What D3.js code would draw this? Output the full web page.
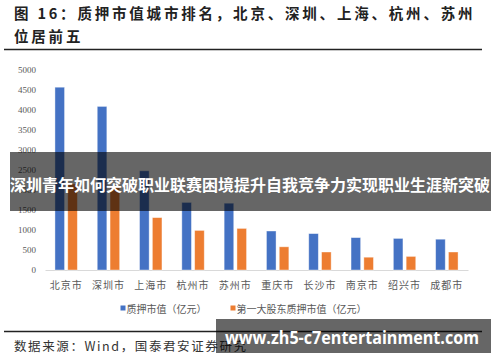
<!DOCTYPE html>
<html><head><meta charset="utf-8">
<script src="https://cdn.jsdelivr.net/npm/d3@7"></script>
<style>html,body{margin:0;padding:0;background:#fff;}svg{display:block;}</style>
</head><body>
<svg id="c" width="500" height="362"></svg>
<script>
const titleLines = ["图 16：质押市值城市排名，北京、深圳、上海、杭州、苏州", "位居前五"];
const cities = ["北京市","深圳市","上海市","杭州市","苏州市","重庆市","长沙市","南京市","绍兴市","成都市"];
const pledgeValue = [4570, 4090, 2480, 1690, 1670, 975, 910, 810, 790, 770];
const firstHolderValue = [2150, 2080, 1310, 990, 1040, 580, 450, 320, 340, 450];
const seriesNames = ["质押市值（亿元）", "第一大股东质押市值（亿元）"];
const seriesColors = ["#4472C4", "#ED7D31"];
const yTicks = [0, 500, 1000, 1500, 2000, 2500, 3000, 3500, 4000, 4500, 5000];
const sourceText = "数据来源：Wind，国泰君安证券研究";
const bannerText = "深圳青年如何突破职业联赛困境提升自我竞争力实现职业生涯新突破";
const watermarkText = "www.zh5-c7entertainment.com";

const svg = d3.select("#c");
const cjk = "'Noto Sans CJK SC', 'Noto Sans', sans-serif";

// Title
svg.selectAll("text.title").data(titleLines).enter().append("text")
  .attr("x", 14).attr("y", (d, i) => 12.5 + i * 22.5)
  .attr("dominant-baseline", "central")
  .style("font-family", cjk).style("font-size", "14.5px").style("font-weight", 600)
  .style("letter-spacing", "2.8px").attr("fill", "#222").text(d => d);
svg.append("line").attr("x1", 4).attr("x2", 482).attr("y1", 49.5).attr("y2", 49.5)
  .attr("stroke", "#222").attr("stroke-width", 1.3);

// Scales
const x0 = d3.scaleBand().domain(cities).range([45, 468]).paddingInner(0.47).paddingOuter(0.235);
const x1 = d3.scaleBand().domain([0, 1]).range([0, x0.bandwidth()]).paddingInner(0.25);
const y = d3.scaleLinear().domain([0, 5000]).range([270, 70]);

// Y axis
const yAxis = svg.append("g").attr("transform", "translate(36,0)")
  .call(d3.axisLeft(y).tickValues(yTicks).tickSize(0).tickPadding(0).tickFormat(d3.format("d")));
yAxis.select(".domain").remove();
yAxis.selectAll("text").attr("fill", "#595959")
  .style("font-family", "'Liberation Serif', serif").style("font-size", "9px");

// X axis
const xAxis = svg.append("g").attr("transform", "translate(0,270)")
  .call(d3.axisBottom(x0).tickSize(0).tickPadding(12).tickSizeOuter(0));
xAxis.select(".domain").attr("stroke", "#d9d9d9");
xAxis.selectAll("text").attr("fill", "#595959")
  .style("font-family", cjk).style("font-size", "10px").style("letter-spacing", "1px");

// Bars
const series = [pledgeValue, firstHolderValue];
const groups = svg.append("g").selectAll("g").data(cities).enter().append("g")
  .attr("transform", d => `translate(${x0(d)},0)`);
groups.selectAll("rect").data((c, i) => series.map((s, k) => ({k, v: s[i]}))).enter().append("rect")
  .attr("x", d => x1(d.k)).attr("width", x1.bandwidth())
  .attr("y", d => y(d.v)).attr("height", d => y(0) - y(d.v))
  .attr("fill", d => seriesColors[d.k])
  .attr("stroke", "#fff").attr("stroke-opacity", 0.5).attr("stroke-width", 0.8);

// Legend
const legendX = [120.5, 230.5];
const lg = svg.append("g").selectAll("g").data(seriesNames).enter().append("g")
  .attr("transform", (d, i) => `translate(${legendX[i]},308)`);
lg.append("rect").attr("x", 0).attr("y", -2.5).attr("width", 5).attr("height", 5)
  .attr("fill", (d, i) => seriesColors[i]);
lg.append("text").attr("x", 6).attr("y", 0).attr("dominant-baseline", "central")
  .style("font-family", cjk).style("font-size", "10px").attr("fill", "#595959").text(d => d);

// Bottom rule and source
svg.append("line").attr("x1", 4).attr("x2", 482).attr("y1", 331.5).attr("y2", 331.5)
  .attr("stroke", "#222").attr("stroke-width", 1.3);
svg.append("text").attr("x", 14).attr("y", 345).attr("dominant-baseline", "central")
  .style("font-family", cjk).style("font-size", "12.5px").style("letter-spacing", "1.6px")
  .attr("fill", "#333").text(sourceText);

// Overlay banner
svg.append("rect").attr("x", 10).attr("y", 152).attr("width", 481).attr("height", 59)
  .attr("fill", "#000").attr("fill-opacity", 0.6);
svg.append("text").attr("x", 250).attr("y", 183.5).attr("text-anchor", "middle")
  .attr("dominant-baseline", "central").attr("textLength", 480).attr("lengthAdjust", "spacingAndGlyphs")
  .style("font-family", cjk).style("font-size", "15.5px").style("font-weight", 700)
  .attr("fill", "#fff").text(bannerText);

// Watermark
svg.append("rect").attr("x", 216).attr("y", 319).attr("width", 275).attr("height", 34)
  .attr("fill", "#000").attr("fill-opacity", 0.6);
svg.append("text").attr("x", 225).attr("y", 336.5).attr("dominant-baseline", "central")
  .attr("textLength", 254).attr("lengthAdjust", "spacingAndGlyphs")
  .style("font-family", "'Open Sans', sans-serif").style("font-size", "18px").style("font-weight", 700)
  .attr("fill", "#fff").text(watermarkText);
</script>
</body></html>
